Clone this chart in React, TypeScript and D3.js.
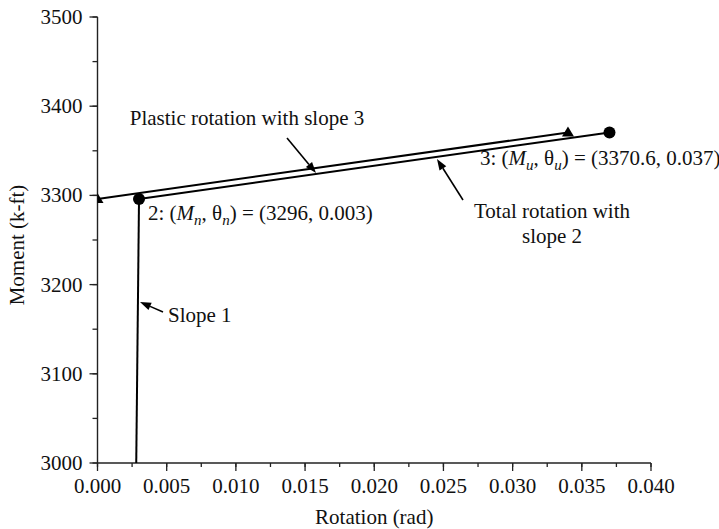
import React from "react";
import * as d3 from "d3";

// ---- data ----
const slope1Rotation = [0.0028, 0.003];
const slope1Moment = [3000, 3296];
const totalRotation = [0.003, 0.037];
const totalMoment = [3296, 3370.6];
const plasticRotation = [0, 0.034];
const plasticMoment = [3296, 3370.6];
const xTicks = [0, 0.005, 0.01, 0.015, 0.02, 0.025, 0.03, 0.035, 0.04];
const yTicks = [3000, 3100, 3200, 3300, 3400, 3500];

const W = 719;
const H = 529;
const FONT = "'Liberation Serif', 'Times New Roman', serif";
const FS = 21;

const x = d3.scaleLinear().domain([0, 0.04]).range([97.5, 651]);
const y = d3.scaleLinear().domain([3000, 3500]).range([463, 17]);

const xMinor = d3.range(0, 0.04001, 0.0025);
const yMinor = d3.range(3000, 3500.1, 50);

function zip(a: number[], b: number[]) {
  return a.map((v, i) => [v, b[i]] as [number, number]);
}

const lineGen = d3
  .line<[number, number]>()
  .x((d) => x(d[0]))
  .y((d) => y(d[1]));

function Arrow({ x1, y1, x2, y2 }: { x1: number; y1: number; x2: number; y2: number }) {
  const ang = Math.atan2(y2 - y1, x2 - x1);
  const len = 11;
  const half = 4;
  const bx = x2 - len * Math.cos(ang);
  const by = y2 - len * Math.sin(ang);
  const px = -Math.sin(ang) * half;
  const py = Math.cos(ang) * half;
  return (
    <g>
      <line x1={x1} y1={y1} x2={bx} y2={by} stroke="#000" strokeWidth={1.6} />
      <path d={`M${x2},${y2}L${bx + px},${by + py}L${bx - px},${by - py}Z`} fill="#000" />
    </g>
  );
}

function tri(cx: number, cy: number) {
  const w = 12;
  const h = 10;
  return `M${cx},${cy - h * 0.6}L${cx + w / 2},${cy + h * 0.4}L${cx - w / 2},${cy + h * 0.4}Z`;
}

export default function App() {
  const x0 = x(0);
  const x1 = x(0.04);
  const y0 = y(3000);
  const yTop = y(3500);
  const sub = { fontSize: 15, fontStyle: "italic" as const };
  return (
    <svg
      width={W}
      height={H}
      style={{ position: "absolute", left: 0, top: 0, background: "#fff" }}
      fontFamily={FONT}
      fontSize={FS}
    >
      <rect width={W} height={H} fill="#fff" />
      <defs>
        <clipPath id="plot">
          <rect x={x0} y={yTop - 10} width={x1 - x0 + 20} height={y0 - yTop + 10} />
        </clipPath>
      </defs>

      {/* axes */}
      <line x1={x0} y1={y0} x2={x1} y2={y0} stroke="#222" strokeWidth={1.4} />
      <line x1={x0} y1={y0} x2={x0} y2={yTop} stroke="#222" strokeWidth={1.4} />
      {xMinor.map((t, i) => (
        <line key={"xm" + i} x1={x(t)} x2={x(t)} y1={y0} y2={y0 + 4} stroke="#222" strokeWidth={1.3} />
      ))}
      {xTicks.map((t, i) => (
        <g key={"xt" + i}>
          <line x1={x(t)} x2={x(t)} y1={y0} y2={y0 + 8} stroke="#222" strokeWidth={1.3} />
          <text x={x(t)} y={y0 + 30} textAnchor="middle" fill="#111">
            {d3.format(".3f")(t)}
          </text>
        </g>
      ))}
      {yMinor.map((t, i) => (
        <line key={"ym" + i} x1={x0 - 5} x2={x0} y1={y(t)} y2={y(t)} stroke="#222" strokeWidth={1.3} />
      ))}
      {yTicks.map((t, i) => (
        <g key={"yt" + i}>
          <line x1={x0 - 8} x2={x0} y1={y(t)} y2={y(t)} stroke="#222" strokeWidth={1.3} />
          <text x={x0 - 15} y={y(t) + 7} textAnchor="end" fill="#111">
            {t}
          </text>
        </g>
      ))}
      <text x={(x0 + x1) / 2} y={524} textAnchor="middle" fill="#111">
        Rotation (rad)
      </text>
      <text transform={`translate(24,245) rotate(-90)`} textAnchor="middle" fill="#111">
        Moment (k-ft)
      </text>

      {/* curves */}
      <g clipPath="url(#plot)">
        <path d={lineGen(zip(slope1Rotation, slope1Moment)) || ""} stroke="#000" strokeWidth={2} fill="none" />
        <path d={lineGen(zip(totalRotation, totalMoment)) || ""} stroke="#000" strokeWidth={2} fill="none" />
        <path d={lineGen(zip(plasticRotation, plasticMoment)) || ""} stroke="#000" strokeWidth={2} fill="none" />
        {plasticRotation.map((r, i) => (
          <path key={"tr" + i} d={tri(x(r), y(plasticMoment[i]))} fill="#000" />
        ))}
        {totalRotation.map((r, i) => (
          <circle key={"c" + i} cx={x(r)} cy={y(totalMoment[i])} r={6} fill="#000" />
        ))}
      </g>

      {/* annotations */}
      <text x={247} y={125} textAnchor="middle" fill="#111">
        Plastic rotation with slope 3
      </text>
      <Arrow x1={287} y1={138} x2={316} y2={173} />

      <text x={168} y={322} fill="#111">
        Slope 1
      </text>
      <Arrow x1={163} y1={312} x2={140} y2={302} />

      <text x={148} y={220} fill="#111">
        2: (<tspan fontStyle="italic">M</tspan>
        <tspan {...sub} dy={5}>n</tspan>
        <tspan dy={-5}>, θ</tspan>
        <tspan {...sub} dy={5}>n</tspan>
        <tspan dy={-5}>) = (3296, 0.003)</tspan>
      </text>

      <text x={480} y={165} fill="#111">
        3: (<tspan fontStyle="italic">M</tspan>
        <tspan {...sub} dy={5}>u</tspan>
        <tspan dy={-5}>, θ</tspan>
        <tspan {...sub} dy={5}>u</tspan>
        <tspan dy={-5}>) = (3370.6, 0.037)</tspan>
      </text>

      <Arrow x1={463} y1={200} x2={437} y2={159} />
      <text x={552} y={218} textAnchor="middle" fill="#111">
        Total rotation with
      </text>
      <text x={552} y={243} textAnchor="middle" fill="#111">
        slope 2
      </text>
    </svg>
  );
}
